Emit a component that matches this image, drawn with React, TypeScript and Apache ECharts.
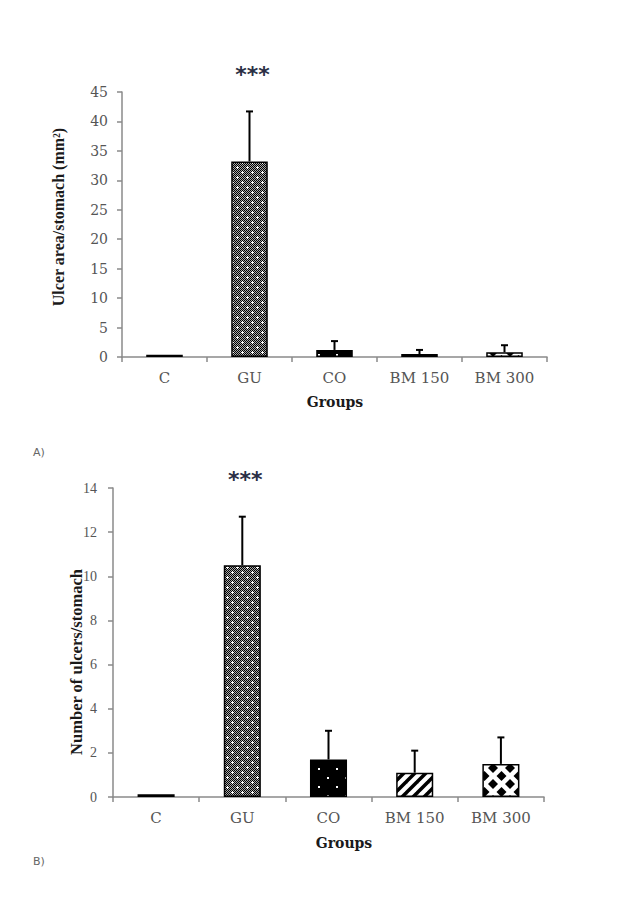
import React, { useEffect, useRef } from "react";
import * as echarts from "echarts";

// ---------- data ----------
const groups = ["C", "GU", "CO", "BM 150", "BM 300"];
const ulcerArea = [0.4, 33.2, 1.2, 0.5, 0.8];
const ulcerAreaErr = [0, 8.5, 1.5, 0.7, 1.2];
const ulcerCount = [0.12, 10.5, 1.7, 1.1, 1.5];
const ulcerCountErr = [0, 2.2, 1.3, 1.0, 1.2];
const significance = ["", "***", "", "", ""];
const areaAxis = { min: 0, max: 45, interval: 5 };
const countAxis = { min: 0, max: 14, interval: 2 };

// ---------- patterns ----------
function makeTile(w: number, h: number, draw: (ctx: CanvasRenderingContext2D) => void) {
  const c = document.createElement("canvas");
  c.width = w;
  c.height = h;
  const ctx = c.getContext("2d") as CanvasRenderingContext2D;
  draw(ctx);
  return c;
}

function buildPatterns(): any[] {
  const gu = makeTile(10, 10, (ctx) => {
    ctx.fillStyle = "#a8a8a8";
    ctx.fillRect(0, 0, 10, 10);
    ctx.fillStyle = "#000";
    for (let y = 0; y < 10; y++)
      for (let x = 0; x < 10; x++) if ((x + y) % 2 === 0) ctx.fillRect(x, y, 1, 1);
    ctx.fillStyle = "#fff";
    const plus = (x: number, y: number) => {
      ctx.fillRect(x - 1, y, 3, 1);
      ctx.fillRect(x, y - 1, 1, 3);
    };
    plus(2, 2);
    plus(7, 7);
  });
  const co = makeTile(18, 18, (ctx) => {
    ctx.fillStyle = "#000";
    ctx.fillRect(0, 0, 18, 18);
    ctx.fillStyle = "#fff";
    ctx.fillRect(3, 3, 2, 2);
    ctx.fillRect(12, 12, 2, 2);
  });
  const bm150 = makeTile(11, 11, (ctx) => {
    ctx.fillStyle = "#fff";
    ctx.fillRect(0, 0, 11, 11);
    ctx.strokeStyle = "#000";
    ctx.lineWidth = 3.5;
    for (const o of [-11, 0, 11]) {
      ctx.beginPath();
      ctx.moveTo(o - 1, 12);
      ctx.lineTo(o + 12, -1);
      ctx.stroke();
    }
  });
  const bm300 = makeTile(17, 16, (ctx) => {
    ctx.fillStyle = "#fff";
    ctx.fillRect(0, 0, 17, 16);
    ctx.fillStyle = "#000";
    const r = 5;
    const dia = (cx: number, cy: number) => {
      ctx.beginPath();
      ctx.moveTo(cx, cy - r);
      ctx.lineTo(cx + r, cy);
      ctx.lineTo(cx, cy + r);
      ctx.lineTo(cx - r, cy);
      ctx.closePath();
      ctx.fill();
    };
    dia(8.5, 8);
    dia(0, 0);
    dia(17, 0);
    dia(0, 16);
    dia(17, 16);
  });
  return [
    "#000",
    { image: gu, repeat: "repeat" },
    { image: co, repeat: "repeat" },
    { image: bm150, repeat: "repeat" },
    { image: bm300, repeat: "repeat" },
  ];
}

const axisGrey = "#8a8a8a";

function valueAxis(
  gridIndex: number,
  cfg: { min: number; max: number; interval: number },
  font: string,
  size: number,
  margin: number
) {
  return {
    gridIndex,
    type: "value",
    min: cfg.min,
    max: cfg.max,
    interval: cfg.interval,
    axisLine: { show: true, lineStyle: { color: axisGrey, width: 1.5 } },
    axisTick: { show: true, length: 5, lineStyle: { color: axisGrey, width: 1.5 } },
    splitLine: { show: false },
    axisLabel: { fontFamily: font, fontSize: size, color: "#555", margin },
  };
}

function catAxis(gridIndex: number) {
  return {
    gridIndex,
    type: "category",
    data: groups,
    boundaryGap: true,
    axisLine: { show: true, lineStyle: { color: axisGrey, width: 1.5 } },
    axisTick: { show: true, length: 5, interval: 0, lineStyle: { color: axisGrey, width: 1.5 } },
    axisLabel: { interval: 0, fontFamily: "DejaVu Serif", fontSize: 15, color: "#555", margin: 13 },
    splitLine: { show: false },
  };
}

function errorSeries(idx: number, values: number[], errs: number[]) {
  return {
    type: "custom",
    xAxisIndex: idx,
    yAxisIndex: idx,
    z: 5,
    clip: false,
    encode: { x: 0, y: 1 },
    data: groups.map((_, i) => [i, values[i], errs[i]]),
    renderItem: (params: any, api: any) => {
      const i = params.dataIndex;
      const v = api.value(1);
      const e = api.value(2);
      const base = api.coord([i, v]);
      const top = api.coord([i, v + e]);
      const children: any[] = [];
      if (e > 0) {
        children.push({
          type: "line",
          shape: { x1: base[0], y1: base[1], x2: top[0], y2: top[1] },
          style: { stroke: "#000", lineWidth: 2 },
        });
        children.push({
          type: "line",
          shape: { x1: top[0] - 3.5, y1: top[1], x2: top[0] + 3.5, y2: top[1] },
          style: { stroke: "#000", lineWidth: 2 },
        });
      }
      const s = significance[i];
      if (s) {
        children.push({
          type: "text",
          x: top[0] + 3,
          y: top[1] - 37,
          style: {
            text: s,
            fill: "#2a2f45",
            font: 'bold 22px "DejaVu Sans"',
            align: "center",
            verticalAlign: "middle",
            textAlign: "center",
            textVerticalAlign: "middle",
          },
        });
      }
      return { type: "group", children };
    },
  };
}

function barSeries(idx: number, values: number[], patterns: any[]) {
  return {
    type: "bar",
    xAxisIndex: idx,
    yAxisIndex: idx,
    barWidth: "43%",
    data: values.map((v, i) => ({ value: v, itemStyle: { color: patterns[i] } })),
    itemStyle: { borderColor: "#000", borderWidth: 1.5 },
  };
}

function titleText(text: string, x: number, y: number, size: number, family: string, rotate = false) {
  return {
    type: "text",
    x,
    y,
    rotation: rotate ? Math.PI / 2 : 0,
    style: {
      text,
      fill: "#1a1a1a",
      font: `bold ${size}px ${family}`,
      align: "center",
      verticalAlign: "middle",
      textAlign: "center",
      textVerticalAlign: "middle",
    },
  };
}

export default function App() {
  const ref = useRef<HTMLDivElement>(null);
  useEffect(() => {
    if (!ref.current) return;
    const chart = echarts.init(ref.current, null, { renderer: "svg" });
    const patterns = buildPatterns();
    chart.setOption({
      animation: false,
      backgroundColor: "#fff",
      grid: [
        { left: 122, top: 92, width: 425, height: 265 },
        { left: 113, top: 488, width: 431, height: 309 },
      ],
      xAxis: [catAxis(0), catAxis(1)],
      yAxis: [
        valueAxis(0, areaAxis, "DejaVu Serif", 14, 14),
        valueAxis(1, countAxis, "Liberation Serif", 14, 16),
      ],
      series: [
        barSeries(0, ulcerArea, patterns),
        errorSeries(0, ulcerArea, ulcerAreaErr),
        barSeries(1, ulcerCount, patterns),
        errorSeries(1, ulcerCount, ulcerCountErr),
      ],
      graphic: [
        titleText("Ulcer area/stomach (mm²)", 58, 217, 16, '"Liberation Serif"', true),
        titleText("Number of ulcers/stomach", 76, 662, 16.5, '"Liberation Serif"', true),
        titleText("Groups", 335, 402, 14, '"DejaVu Serif"'),
        titleText("Groups", 344, 843, 14, '"DejaVu Serif"'),
        {
          type: "text",
          x: 39,
          y: 452,
          style: { text: "A)", fill: "#666", font: '11px "DejaVu Sans"', align: "center", verticalAlign: "middle", textAlign: "center", textVerticalAlign: "middle" },
        },
        {
          type: "text",
          x: 39,
          y: 861,
          style: { text: "B)", fill: "#666", font: '11px "DejaVu Sans"', align: "center", verticalAlign: "middle", textAlign: "center", textVerticalAlign: "middle" },
        },
      ],
    });
    return () => chart.dispose();
  }, []);
  return (
    <div
      ref={ref}
      style={{ position: "absolute", left: 0, top: 0, width: 644, height: 920, background: "#fff" }}
    />
  );
}
